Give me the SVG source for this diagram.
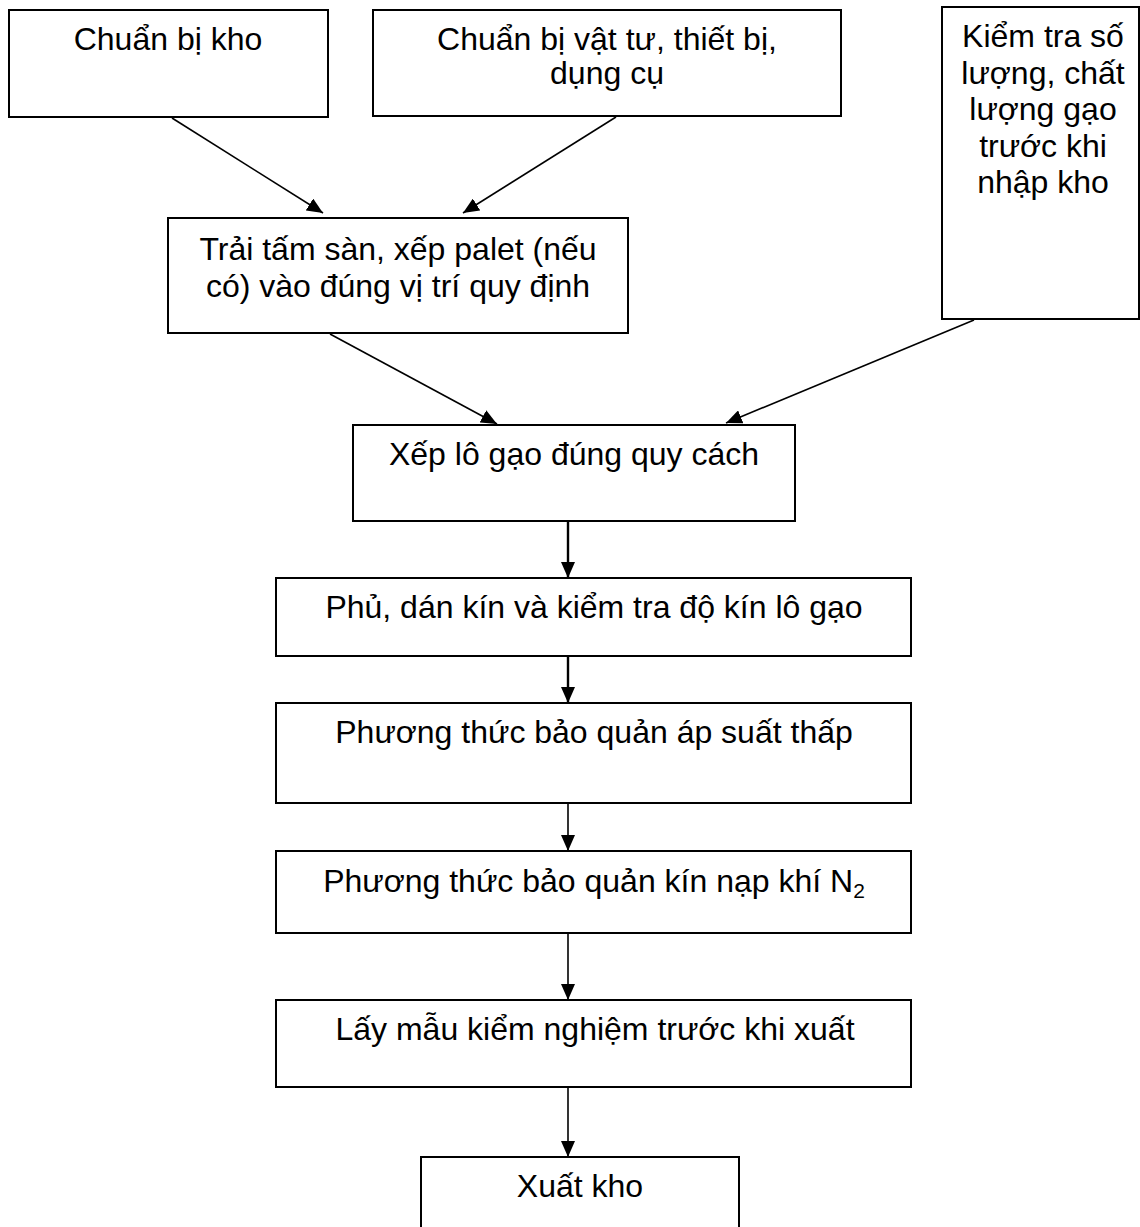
<svg xmlns="http://www.w3.org/2000/svg" width="1140" height="1227" viewBox="0 0 1140 1227">
<style>
.box{fill:#fff;stroke:#000;stroke-width:2}
.t{font-family:"Liberation Sans",Arial,sans-serif;font-size:32px;fill:#000;text-anchor:middle}
.c{fill:none;stroke:#000;stroke-width:1.6}
.ct{fill:none;stroke:#000;stroke-width:2.4}
</style>
<defs>
<marker id="ah" markerUnits="userSpaceOnUse" markerWidth="16" markerHeight="14" viewBox="0 0 16 14" refX="16" refY="7" orient="auto">
<path d="M0,0 L16,7 L0,14 Z" fill="#000"/>
</marker>
</defs>
<rect width="1140" height="1227" fill="#fff"/>
<g id="n1"><rect class="box" x="9" y="10" width="319" height="107"/><text class="t" x="168" y="50">Chuẩn bị kho</text></g>
<g id="n2"><rect class="box" x="373" y="10" width="468" height="106"/><text class="t" x="607" y="50">Chuẩn bị vật tư, thiết bị,</text><text class="t" x="607" y="84">dụng cụ</text></g>
<g id="n3"><rect class="box" x="942" y="7" width="197" height="312"/><text class="t" x="1043" y="47">Kiểm tra số</text><text class="t" x="1043" y="84">lượng, chất</text><text class="t" x="1043" y="120">lượng gạo</text><text class="t" x="1043" y="157">trước khi</text><text class="t" x="1043" y="193">nhập kho</text></g>
<g id="n4"><rect class="box" x="168" y="218" width="460" height="115"/><text class="t" x="398" y="260">Trải tấm sàn, xếp palet (nếu</text><text class="t" x="398" y="297">có) vào đúng vị trí quy định</text></g>
<g id="n5"><rect class="box" x="353" y="425" width="442" height="96"/><text class="t" x="574" y="465">Xếp lô gạo đúng quy cách</text></g>
<g id="n6"><rect class="box" x="276" y="578" width="635" height="78"/><text class="t" x="594" y="618">Phủ, dán kín và kiểm tra độ kín lô gạo</text></g>
<g id="n7"><rect class="box" x="276" y="703" width="635" height="100"/><text class="t" x="594" y="743">Phương thức bảo quản áp suất thấp</text></g>
<g id="n8"><rect class="box" x="276" y="851" width="635" height="82"/><text class="t" x="594" y="892">Phương thức bảo quản kín nạp khí N<tspan font-size="21" dy="6">2</tspan></text></g>
<g id="n9"><rect class="box" x="276" y="1000" width="635" height="87"/><text class="t" x="595" y="1040">Lấy mẫu kiểm nghiệm trước khi xuất</text></g>
<g id="n10"><rect class="box" x="421" y="1157" width="318" height="80"/><text class="t" x="580" y="1197">Xuất kho</text></g>
<g id="connectors">
<line class="c" x1="172" y1="118" x2="323" y2="213" marker-end="url(#ah)"/>
<line class="c" x1="616" y1="117" x2="463" y2="213" marker-end="url(#ah)"/>
<line class="c" x1="330" y1="334" x2="497" y2="424" marker-end="url(#ah)"/>
<line class="c" x1="974" y1="320" x2="726" y2="423" marker-end="url(#ah)"/>
<line class="ct" x1="568" y1="522" x2="568" y2="578" marker-end="url(#ah)"/>
<line class="ct" x1="568" y1="657" x2="568" y2="703" marker-end="url(#ah)"/>
<line class="c" x1="568" y1="804" x2="568" y2="851" marker-end="url(#ah)"/>
<line class="c" x1="568" y1="934" x2="568" y2="1000" marker-end="url(#ah)"/>
<line class="c" x1="568" y1="1088" x2="568" y2="1157" marker-end="url(#ah)"/>
</g>
</svg>
